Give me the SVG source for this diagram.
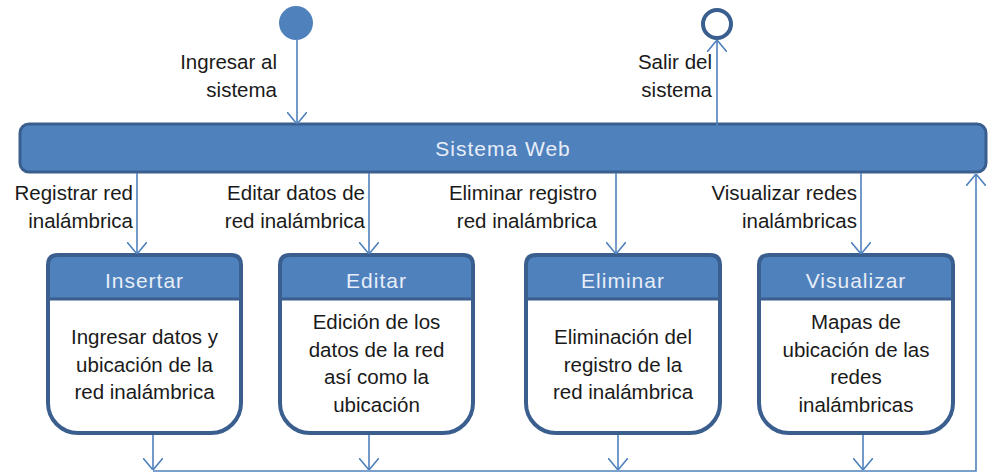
<svg xmlns="http://www.w3.org/2000/svg" width="989" height="474" viewBox="0 0 989 474">
<defs>
<style>
.lbl{font-family:"Liberation Sans",Arial,sans-serif;font-size:20.5px;fill:#1a1a1a;text-anchor:end}
.body{font-family:"Liberation Sans",Arial,sans-serif;font-size:20.5px;fill:#1a1a1a;text-anchor:middle}
.title{font-family:"Liberation Sans",Arial,sans-serif;font-size:21px;letter-spacing:1px;fill:#e8eef8;text-anchor:middle}
.conn{fill:none;stroke:#4f81bd;stroke-width:1.6}
.hdr{fill:#4f81bd;stroke:none}
.out{fill:none;stroke:#3a5f8e;stroke-width:4}
.sep{stroke:#3a5f8e;stroke-width:3}
</style>
<marker id="arr" viewBox="0 0 12 20" refX="12" refY="10" markerWidth="12" markerHeight="20" markerUnits="userSpaceOnUse" orient="auto">
<path d="M0,0 L12,10 L0,20" fill="none" stroke="#4f81bd" stroke-width="1.6"/>
</marker>
</defs>
<rect width="989" height="474" fill="#ffffff"/>

<g id="start"><circle cx="296" cy="23" r="17" fill="#4f81bd"/></g>
<g id="end"><circle cx="717" cy="24" r="14" fill="#ffffff" stroke="#3a5f8e" stroke-width="4"/></g>

<g id="sistema-web">
<rect x="20" y="124" width="966" height="48" rx="9" fill="#4f81bd" stroke="#3a5f8e" stroke-width="3"/>
<text class="title" x="503" y="156">Sistema Web</text>
</g>

<g id="insertar">
<path class="hdr" d="M58,255 H231 Q241,255 241,265 V299 H48 V265 Q48,255 58,255 Z"/>
<path d="M48,299 H241 V403 A30,30 0 0 1 211,433 H78 A30,30 0 0 1 48,403 Z" fill="#ffffff"/>
<line class="sep" x1="48" y1="299" x2="241" y2="299"/>
<path class="out" d="M58,255 H231 Q241,255 241,265 V403 A30,30 0 0 1 211,433 H78 A30,30 0 0 1 48,403 V265 Q48,255 58,255 Z"/>
<text class="title" x="144.5" y="288">Insertar</text>
<text class="body" x="144.5" y="344">Ingresar datos y</text>
<text class="body" x="144.5" y="372">ubicación de la</text>
<text class="body" x="144.5" y="399">red inalámbrica</text>
</g>

<g id="editar">
<path class="hdr" d="M290,255 H463 Q473,255 473,265 V299 H280 V265 Q280,255 290,255 Z"/>
<path d="M280,299 H473 V403 A30,30 0 0 1 443,433 H310 A30,30 0 0 1 280,403 Z" fill="#ffffff"/>
<line class="sep" x1="280" y1="299" x2="473" y2="299"/>
<path class="out" d="M290,255 H463 Q473,255 473,265 V403 A30,30 0 0 1 443,433 H310 A30,30 0 0 1 280,403 V265 Q280,255 290,255 Z"/>
<text class="title" x="376.5" y="288">Editar</text>
<text class="body" x="376.5" y="329">Edición de los</text>
<text class="body" x="376.5" y="357">datos de la red</text>
<text class="body" x="376.5" y="384">así como la</text>
<text class="body" x="376.5" y="412">ubicación</text>
</g>

<g id="eliminar">
<path class="hdr" d="M536,255 H710 Q720,255 720,265 V299 H526 V265 Q526,255 536,255 Z"/>
<path d="M526,299 H720 V403 A30,30 0 0 1 690,433 H556 A30,30 0 0 1 526,403 Z" fill="#ffffff"/>
<line class="sep" x1="526" y1="299" x2="720" y2="299"/>
<path class="out" d="M536,255 H710 Q720,255 720,265 V403 A30,30 0 0 1 690,433 H556 A30,30 0 0 1 526,403 V265 Q526,255 536,255 Z"/>
<text class="title" x="623" y="288">Eliminar</text>
<text class="body" x="623" y="344">Eliminación del</text>
<text class="body" x="623" y="372">registro de la</text>
<text class="body" x="623" y="399">red inalámbrica</text>
</g>

<g id="visualizar">
<path class="hdr" d="M769,255 H943 Q953,255 953,265 V299 H759 V265 Q759,255 769,255 Z"/>
<path d="M759,299 H953 V403 A30,30 0 0 1 923,433 H789 A30,30 0 0 1 759,403 Z" fill="#ffffff"/>
<line class="sep" x1="759" y1="299" x2="953" y2="299"/>
<path class="out" d="M769,255 H943 Q953,255 953,265 V403 A30,30 0 0 1 923,433 H789 A30,30 0 0 1 759,403 V265 Q759,255 769,255 Z"/>
<text class="title" x="856" y="288">Visualizar</text>
<text class="body" x="856" y="329">Mapas de</text>
<text class="body" x="856" y="357">ubicación de las</text>
<text class="body" x="856" y="384">redes</text>
<text class="body" x="856" y="412">inalámbricas</text>
</g>

<g id="connectors">
<line class="conn" x1="297" y1="40" x2="297" y2="124" marker-end="url(#arr)"/>
<line class="conn" x1="717" y1="140" x2="717" y2="40" marker-end="url(#arr)"/>
<line class="conn" x1="137" y1="173" x2="137" y2="254" marker-end="url(#arr)"/>
<line class="conn" x1="369" y1="173" x2="369" y2="254" marker-end="url(#arr)"/>
<line class="conn" x1="616" y1="173" x2="616" y2="254" marker-end="url(#arr)"/>
<line class="conn" x1="861" y1="173" x2="861" y2="254" marker-end="url(#arr)"/>
<line class="conn" x1="153" y1="435" x2="153" y2="470" marker-end="url(#arr)"/>
<line class="conn" x1="369" y1="435" x2="369" y2="470" marker-end="url(#arr)"/>
<line class="conn" x1="618" y1="435" x2="618" y2="470" marker-end="url(#arr)"/>
<line class="conn" x1="863" y1="435" x2="863" y2="470" marker-end="url(#arr)"/>
<path class="conn" d="M153,471 H976 V174" marker-end="url(#arr)"/>
<text class="lbl" x="277" y="69">Ingresar al</text>
<text class="lbl" x="277" y="97">sistema</text>
<text class="lbl" x="712" y="69">Salir del</text>
<text class="lbl" x="712" y="97">sistema</text>
<text class="lbl" x="133" y="200">Registrar red</text>
<text class="lbl" x="133" y="228">inalámbrica</text>
<text class="lbl" x="365" y="200">Editar datos de</text>
<text class="lbl" x="365" y="228">red inalámbrica</text>
<text class="lbl" x="597" y="200">Eliminar registro</text>
<text class="lbl" x="597" y="228">red inalámbrica</text>
<text class="lbl" x="857" y="200">Visualizar redes</text>
<text class="lbl" x="857" y="228">inalámbricas</text>
</g>
</svg>
